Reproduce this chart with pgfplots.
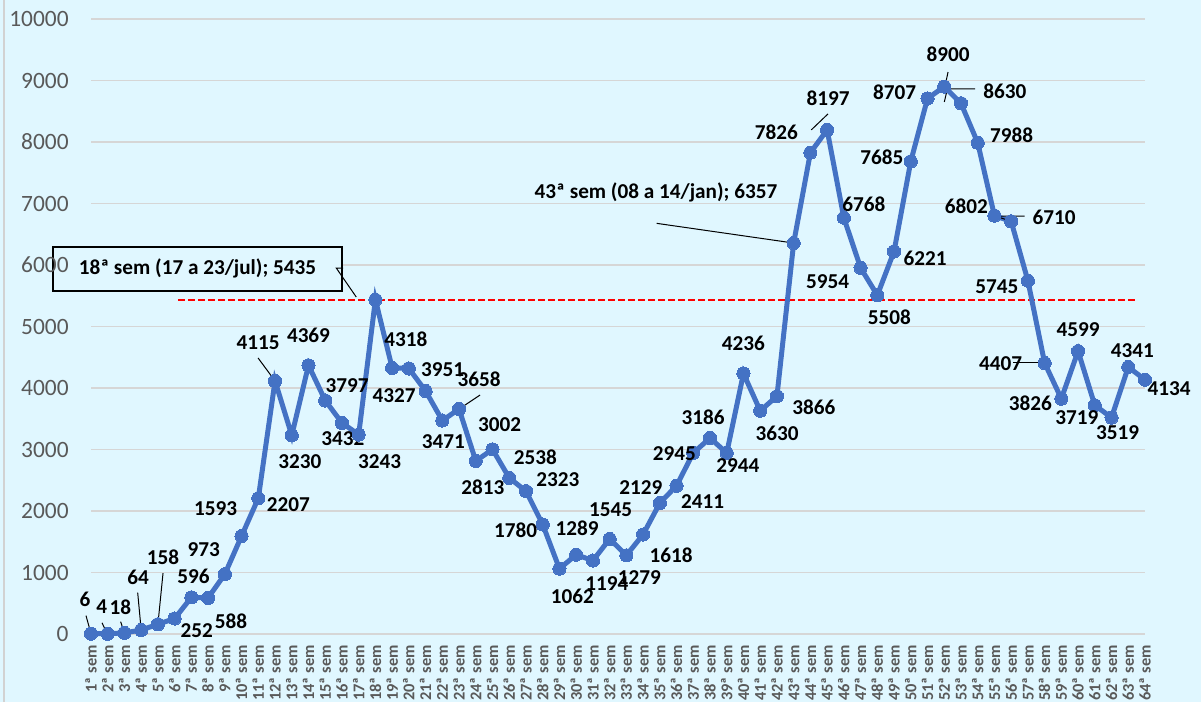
\documentclass[border=0pt]{standalone}
\usepackage{pgfplots}
\pgfplotsset{compat=1.18}
\usepackage{pgfplotstable}
\usepackage{fontspec}
\setmainfont{Carlito}
\definecolor{bg}{RGB}{224,247,255}
\definecolor{ln}{RGB}{68,114,196}
\definecolor{gridc}{RGB}{214,214,214}
\definecolor{tickc}{RGB}{89,89,89}

\pgfplotstableread{
x y lab dx dy
1 6 6 -3 17
2 4 4 -3 13.5
3 18 18 -2 13
4 64 64 -1.5 26.5
5 158 158 2.5 33.5
6 252 252 11 -6
7 596 596 1 10.5
8 588 588 11.5 -11.5
9 973 973 -10.5 12.5
10 1593 1593 -13 13.5
11 2207 2207 15 -3
12 4115 4115 -8.5 19
13 3230 3230 4 -13
14 4369 4369 0 15
15 3797 3797 11 7.5
16 3432 3432 0.5 -8
17 3243 3243 10.5 -13.5
18 5435 {} 0 0
19 4327 4327 1 -14
20 4318 4318 -1.5 14.5
21 3951 3951 8.5 10.5
22 3471 3471 0.5 -10.5
23 3658 3658 10 15
24 2813 2813 3.5 -13
25 3002 3002 3.5 12.5
26 2538 2538 13 10.5
27 2323 2323 16 6
28 1780 1780 -13.5 -3
29 1062 1062 6.5 -14
30 1289 1289 0.5 13
31 1194 1194 7 -11.5
32 1545 1545 0.5 14.5
33 1279 1279 6.5 -11
34 1618 1618 14 -10.5
35 2129 2129 -9.5 8
36 2411 2411 13 -8
37 2945 2945 -9.5 -0.5
38 3186 3186 -3.5 10.5
39 2944 2944 5.5 -6.5
40 4236 4236 0 15
41 3630 3630 8.5 -11.5
42 3866 3866 18.5 -5.5
43 6357 {} 0 0
44 7826 7826 -17 10
45 8197 8197 0.5 16
46 6768 6768 10 7
47 5954 5954 -16.5 -7
48 5508 5508 6 -11
49 6221 6221 15.5 -3.5
50 7685 7685 -14.5 2
51 8707 8707 -16.5 3
52 8900 8900 2 16
53 8630 8630 22 6
54 7988 7988 17 3.5
55 6802 6802 -14 4.5
56 6710 6710 21.5 2
57 5745 5745 -15.5 -3
58 4407 4407 -22 -0.5
59 3826 3826 -15.5 -2.5
60 4599 4599 0 11
61 3719 3719 -9 -6
62 3519 3519 3 -7.5
63 4341 4341 2 8
64 4134 4134 12 -4.5
}\data

\newcommand{\lblfont}{\fontsize{10.6}{12}\selectfont\bfseries}

\begin{document}
\begin{tikzpicture}
\pgfplotsset{set layers}
\begin{pgfonlayer}{axis background}
\fill[bg] (0,0) rectangle (600.5pt,351pt);
\draw[gray!35, line width=1pt] (1.75pt,0) -- (1.75pt,351pt);
\end{pgfonlayer}
\begin{axis}[
  at={(45.5pt,34pt)}, anchor=south west,
  scale only axis, width=527pt, height=307.5pt,
  xmin=1, xmax=64, ymin=0, ymax=10000,
  axis line style={draw=none}, tick style={draw=none},
  ymajorgrids, grid style={gridc, line width=0.8pt},
  ytick={0,1000,...,10000},
  scaled y ticks=false,
  xtick={1,...,64},
  xticklabel={\pgfmathparse{int(\tick)}\pgfmathresult ª sem},
  xticklabel style={rotate=90, anchor=east, inner sep=1pt, inner xsep=5.5pt,
    font=\fontsize{8.2}{9}\selectfont\bfseries, text=tickc},
  yticklabel style={font=\fontsize{11.7}{13}\selectfont, text=tickc, inner xsep=11pt},
  /pgf/number format/assume math mode=true,
  /pgf/number format/1000 sep={},
  clip=false,
]
\addplot[red, line width=1pt, dash pattern=on 3.5pt off 1.5pt] coordinates {(6.22,5435) (63.6,5435)};
\addplot[ln, line width=2.5pt, mark=*, mark size=3.3pt,
  mark options={fill=ln, draw=ln, line width=0pt},
  nodes near coords, point meta=explicit symbolic,
  nodes near coords align=center,
  visualization depends on={\thisrow{dx}\as\dxv},
  visualization depends on={\thisrow{dy}\as\dyv},
  every node near coord/.append style={anchor=center, xshift=\dxv pt, yshift=\dyv pt,
    font=\lblfont, text=black, inner sep=0pt},
] table[x=x, y=y, meta=lab] {\data};

% leader lines
\draw[black, line width=0.5pt] (axis cs:1,6) ++(-2.5pt,9pt) -- (axis cs:1,6);
\draw[black, line width=0.5pt] (axis cs:2,4) ++(-2.85pt,5.5pt) -- ++(2.5pt,-5.5pt);
\draw[black, line width=0.5pt] (axis cs:3,18) ++(-1.9pt,5.6pt) -- ++(1.65pt,-5.1pt);
\draw[black, line width=0.5pt] (axis cs:4,64) ++(-1.75pt,18.7pt) -- (axis cs:4,64);
\draw[black, line width=0.5pt] (axis cs:5,158) ++(2.55pt,25.6pt) -- (axis cs:5,158);
\draw[black, line width=0.5pt] (axis cs:12,4115) ++(-8.5pt,11.5pt) -- (axis cs:12,4115);
\draw[black, line width=0.5pt] (axis cs:23,3658) ++(10.5pt,7pt) -- (axis cs:23,3658);
\draw[black, line width=0.5pt] (axis cs:45,8197) ++(0.45pt,8pt) -- ++(0,-8pt);
\draw[black, line width=0.5pt] (axis cs:52,8900) ++(1.9pt,7.3pt) -- ++(-1.5pt,-7pt);
\draw[black, line width=0.5pt] (axis cs:53,8630) ++(7.05pt,7.15pt) -- ++(-5.5pt,0) -- ++(-1.5pt,-6.5pt);
\draw[black, line width=0.5pt] (axis cs:56,6710) ++(6.7pt,2.65pt) -- ++(-6.25pt,0) -- (axis cs:56,6710);
\draw[black, line width=0.5pt] (axis cs:58,4407) ++(-7.25pt,0) -- (axis cs:58,4407);
% callout 18
\draw[black, line width=0.5pt] (axis cs:18,5435) ++(-16.2pt,15.85pt) -- ++(5pt,0) -- ++(10pt,-14.5pt);
\pgfplotsextra{%
\begin{pgfonlayer}{axis lines}
\node[draw=black, line width=1pt, fill=bg, minimum width=144.5pt, minimum height=22pt,
  inner sep=0pt, font=\lblfont] at ([shift={(-88.95pt,15.6pt)}]axis cs:18,5435)
  {18ª sem (17 a 23/jul); 5435};
\end{pgfonlayer}}
% annotation 43
\draw[black, line width=0.5pt] (axis cs:43,6357) ++(-68.5pt,9.85pt) -- (axis cs:43,6357);
\node[font=\lblfont, inner sep=0pt] at ([shift={(-68.85pt,25.15pt)}]axis cs:43,6357)
  {43ª sem (08 a 14/jan); 6357};
\end{axis}
\pgfresetboundingbox
\path[use as bounding box] (0,0) rectangle (600.5pt,351pt);
\end{tikzpicture}
\end{document}
